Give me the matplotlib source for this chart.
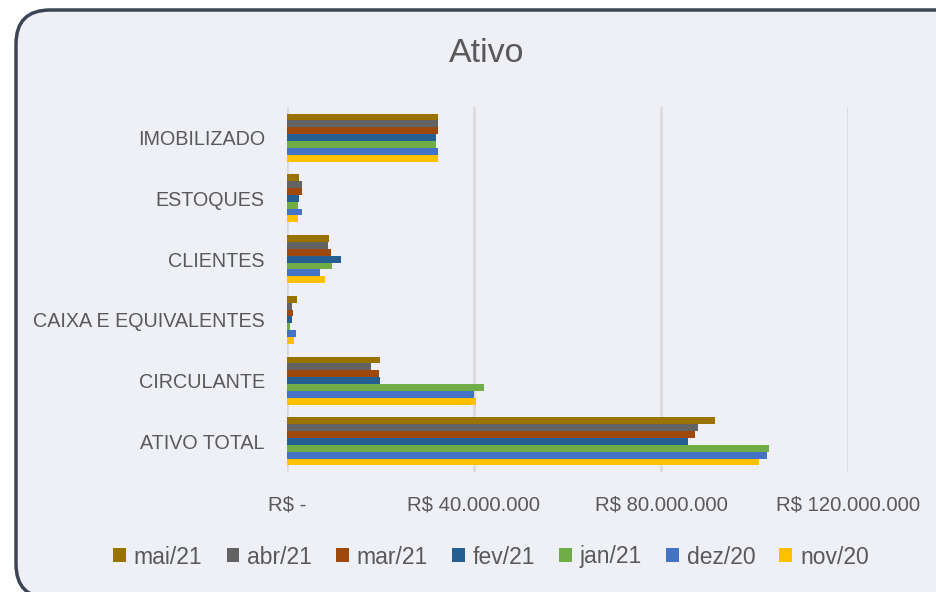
import matplotlib.pyplot as plt
import numpy as np
from matplotlib.patches import FancyBboxPatch

print("-- ATIVO POR MES --")

categorias = ["ATIVO TOTAL", "CIRCULANTE", "CAIXA E EQUIVALENTES", "CLIENTES", "ESTOQUES", "IMOBILIZADO"]
meses = ["nov/20", "dez/20", "jan/21", "fev/21", "mar/21", "abr/21", "mai/21"]
cores = ["#FFC000", "#4472C4", "#70AD47", "#255E91", "#9E480E", "#636363", "#997300"]

nov20 = [101.0e6, 40.5e6, 1.6e6, 8.2e6, 2.35e6, 32.3e6]
dez20 = [102.7e6, 40.0e6, 1.85e6, 7.1e6, 3.2e6, 32.3e6]
jan21 = [103.2e6, 42.1e6, 0.7e6, 9.55e6, 2.35e6, 31.9e6]
fev21 = [85.7e6, 20.0e6, 1.1e6, 11.5e6, 2.6e6, 31.9e6]
mar21 = [87.3e6, 19.7e6, 1.2e6, 9.35e6, 3.2e6, 32.3e6]
abr21 = [87.9e6, 18.0e6, 1.05e6, 8.7e6, 3.2e6, 32.3e6]
mai21 = [91.5e6, 20.0e6, 2.1e6, 9.05e6, 2.6e6, 32.3e6]
list_ventas = [nov20, dez20, jan21, fev21, mar21, abr21, mai21]

ticks = [0, 40e6, 80e6, 120e6]
tick_labels = ["R$ -", "R$ 40.000.000", "R$ 80.000.000", "R$ 120.000.000"]

plt.rcParams["font.family"] = "Liberation Sans"
fondo = "#EEF0F5"
gris = "#595959"

plt.figure(figsize=(9.36, 5.92), dpi=100, facecolor="white")
#marco redondeado del grafico, en pixeles
marco = FancyBboxPatch((16, -6), 960, 588, boxstyle="round,pad=0,rounding_size=34",
                       facecolor=fondo, edgecolor="#3B4556", linewidth=2.5, transform=None, zorder=-1)
plt.gcf().add_artist(marco)

ax = plt.axes([0.3066, 0.203, 0.5994, 0.616])
ax.set_facecolor("none")

y = np.arange(len(categorias))
h = 0.113
i = 0
for i in range(len(meses)):
    plt.barh(y + (i - 3) * h, list_ventas[i], height=h, color=cores[i], label=meses[i], zorder=3)

plt.xlim(0, 120e6)
plt.ylim(-0.5, 5.5)
plt.xticks(ticks, tick_labels, fontsize=14.6, color=gris)
plt.yticks(y, categorias, fontsize=14.2, color=gris)
plt.tick_params(axis="x", length=0, pad=17)
plt.tick_params(axis="y", length=0, pad=16)
plt.grid(axis="x", color="#D9D9D9", linewidth=1.8, zorder=0)
for lado in ax.spines.values():
    lado.set_visible(False)

plt.figtext(0.52, 1 - 53 / 592, "Ativo", fontsize=24.5, color=gris, ha="center", va="center")

handles, labels = ax.get_legend_handles_labels()
plt.legend(handles[::-1], labels[::-1], ncol=7, frameon=False, fontsize=16.5, labelcolor=gris,
           loc="center", bbox_to_anchor=(491 / 936, 1 - 557 / 592), bbox_transform=plt.gcf().transFigure,
           handlelength=0.55, handleheight=0.55, handletextpad=0.35, columnspacing=1.05)

#guardamos el grafico en una imagen
plt.savefig("out.png", dpi=100, facecolor="white")
